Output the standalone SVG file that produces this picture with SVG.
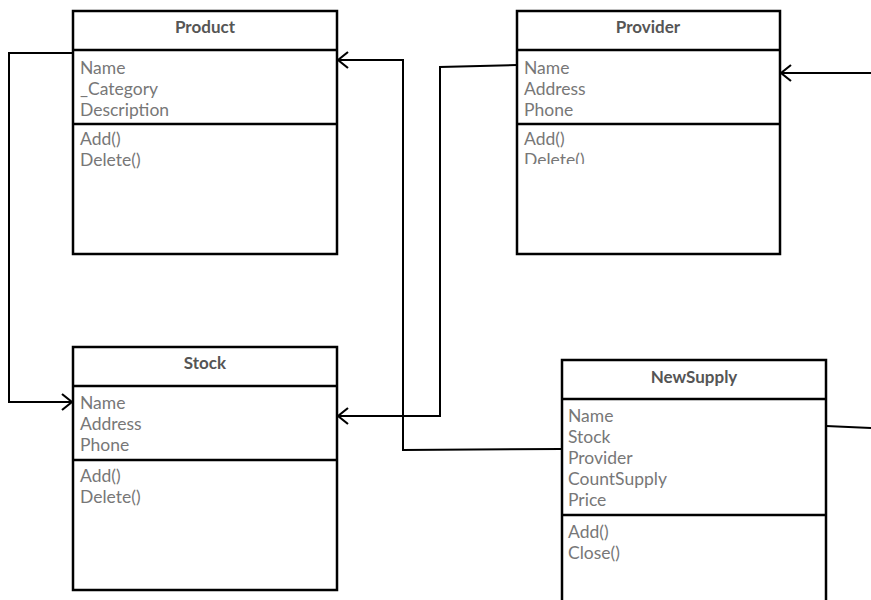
<svg xmlns="http://www.w3.org/2000/svg" width="871" height="600" viewBox="0 0 871 600">
<style>
.box{fill:#fff;stroke:#000;stroke-width:2.5}
.sep{stroke:#000;stroke-width:2.5}
.title{font-family:Lato,"Open Sans",sans-serif;font-size:17px;font-weight:bold;fill:#555;text-anchor:middle}
.attr{font-family:Lato,"Open Sans",sans-serif;font-size:17.5px;fill:#777}
.conn{fill:none;stroke:#000;stroke-width:2}
</style>
<defs>
<marker id="arr" viewBox="0 0 12 18" refX="11" refY="9" markerWidth="12" markerHeight="18" markerUnits="userSpaceOnUse" orient="auto">
<path d="M1,1 L11,9 L1,17" fill="none" stroke="#000" stroke-width="2.2"/>
</marker>
<clipPath id="provClip"><rect x="517" y="124" width="263" height="40"/></clipPath>
</defs>
<rect width="871" height="600" fill="#fff"/>
<g id="connectors">
<polyline class="conn" points="73,53 9,53 9,402 72,402" marker-end="url(#arr)"/>
<polyline class="conn" points="562,449 403,450 403,60 338,60" marker-end="url(#arr)"/>
<polyline class="conn" points="517,65 440,67 440,416 338,416" marker-end="url(#arr)"/>
<polyline class="conn" points="871,73 781,73" marker-end="url(#arr)"/>
<polyline class="conn" points="826,426 871,428"/>
</g>
<g id="product">
<rect class="box" x="73" y="11" width="264" height="243"/>
<line class="sep" x1="73" y1="50" x2="337" y2="50"/>
<line class="sep" x1="73" y1="124" x2="337" y2="124"/>
<text class="title" x="205" y="33">Product</text>
<text class="attr" x="80" y="74">Name</text>
<text class="attr" x="80" y="95">_Category</text>
<text class="attr" x="80" y="116">Description</text>
<text class="attr" x="80" y="145">Add()</text>
<text class="attr" x="80" y="166">Delete()</text>
</g>
<g id="provider">
<rect class="box" x="517" y="11" width="263" height="243"/>
<line class="sep" x1="517" y1="50" x2="780" y2="50"/>
<line class="sep" x1="517" y1="124" x2="780" y2="124"/>
<text class="title" x="648" y="33">Provider</text>
<text class="attr" x="524" y="74">Name</text>
<text class="attr" x="524" y="95">Address</text>
<text class="attr" x="524" y="116">Phone</text>
<g clip-path="url(#provClip)">
<text class="attr" x="524" y="145">Add()</text>
<text class="attr" x="524" y="166">Delete()</text>
</g>
</g>
<g id="stock">
<rect class="box" x="73" y="347" width="264" height="243"/>
<line class="sep" x1="73" y1="386" x2="337" y2="386"/>
<line class="sep" x1="73" y1="460" x2="337" y2="460"/>
<text class="title" x="205" y="369">Stock</text>
<text class="attr" x="80" y="409">Name</text>
<text class="attr" x="80" y="430">Address</text>
<text class="attr" x="80" y="451">Phone</text>
<text class="attr" x="80" y="482">Add()</text>
<text class="attr" x="80" y="503">Delete()</text>
</g>
<g id="newsupply">
<rect class="box" x="562" y="360" width="264" height="260"/>
<line class="sep" x1="562" y1="399" x2="826" y2="399"/>
<line class="sep" x1="562" y1="515" x2="826" y2="515"/>
<text class="title" x="694" y="383">NewSupply</text>
<text class="attr" x="568" y="422">Name</text>
<text class="attr" x="568" y="443">Stock</text>
<text class="attr" x="568" y="464">Provider</text>
<text class="attr" x="568" y="485">CountSupply</text>
<text class="attr" x="568" y="506">Price</text>
<text class="attr" x="568" y="538">Add()</text>
<text class="attr" x="568" y="559">Close()</text>
</g>
</svg>
